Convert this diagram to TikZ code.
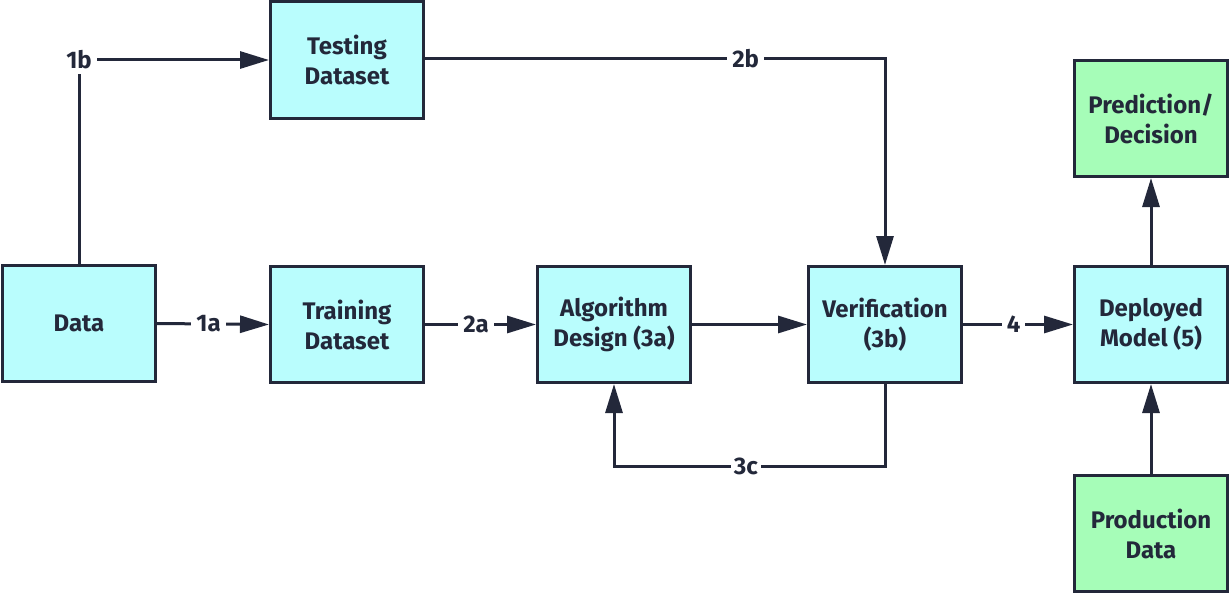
\documentclass[tikz,border=0pt]{standalone}
\usepackage{fontspec}
\setmainfont{Fira Sans}
\usetikzlibrary{arrows.meta}
\definecolor{boxcyan}{HTML}{B9FDFD}
\definecolor{boxgreen}{HTML}{A6FDB8}
\definecolor{ink}{HTML}{23283A}
\begin{document}
\begin{tikzpicture}[x=1pt,y=-1pt,
  box/.style={draw=ink,line width=3pt,fill=boxcyan,minimum width=153pt,minimum height=116pt,
    align=center,text=ink,font=\fontsize{24}{30}\selectfont\bfseries},
  gbox/.style={box,fill=boxgreen},
  conn/.style={draw=ink,line width=3pt,-{Triangle[length=29pt,width=17pt]}},
  lbl/.style={fill=white,text=ink,inner sep=5pt,font=\fontsize{24}{30}\selectfont\bfseries}]
\useasboundingbox (0,0) rectangle (1231,594);
\node[box] (data) at (79,323.5) {Data};
\node[box] (test) at (347,60) {Testing\\Dataset};
\node[box] (train) at (347,324.5) {Training\\Dataset};
\node[box] (algo) at (614,324.5) {Algorithm\\Design (3a)};
\node[box] (ver) at (885,324.5) {Verification\\(3b)};
\node[box] (dep) at (1151,324.5) {Deployed\\Model (5)};
\node[gbox] (pred) at (1151,118.5) {Prediction/\\Decision};
\node[gbox] (prod) at (1151,533.5) {Production\\Data};
\coordinate (c2b) at (885,59);
\coordinate (c3c) at (885,466);
\draw[conn] (data.north) |- node[lbl,pos=0.5] {1b} (test.west);
\draw[conn] (data.east) -- node[lbl,pos=0.46] {1a} (train.west);
\draw[conn] (train.east) -- node[lbl,pos=0.46] {2a} (algo.west);
\draw[conn] (algo.east) -- (ver.west);
\draw[conn] (ver.east) -- node[lbl,pos=0.46] {4} (dep.west);
\draw[conn] (test.east |- c2b) -- node[lbl,pos=0.697] {2b} (c2b) -- (ver.north);
\draw[conn] (ver.south) -- (c3c) -- node[lbl,pos=0.513,inner sep=3pt] {3c} (c3c -| algo.south) -- (algo.south);
\draw[conn] (dep.north) -- (pred.south);
\draw[conn] (prod.north) -- (dep.south);
\end{tikzpicture}
\end{document}
